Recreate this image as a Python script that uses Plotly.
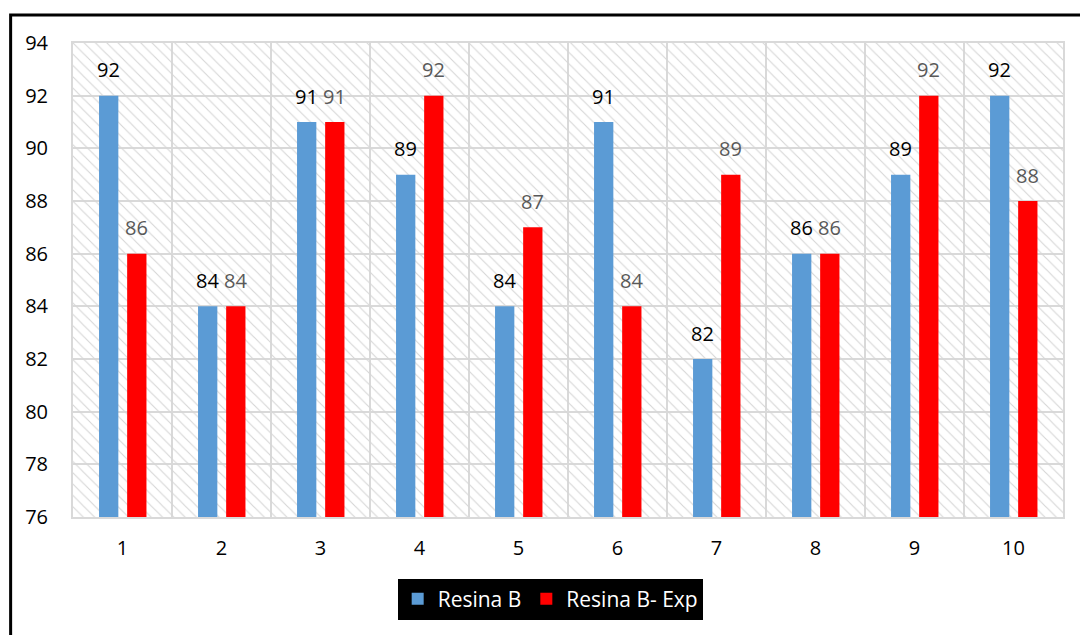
import plotly.graph_objects as go

# Sample number and the two measured series
categories = [1, 2, 3, 4, 5, 6, 7, 8, 9, 10]
resina_b = [92, 84, 91, 89, 84, 91, 82, 86, 89, 92]
resina_b_exp = [86, 84, 91, 92, 87, 84, 89, 86, 92, 88]
y_ticks = [76, 78, 80, 82, 84, 86, 88, 90, 92, 94]

BLUE = "#5b9bd5"
RED = "#ff0000"
GRID = "#d9d9d9"
FONT = "Open Sans"
Y_MIN, Y_MAX = 76, 94

fig = go.Figure()

# Hatched backdrop covering the whole plotting area
fig.add_trace(go.Bar(
    x=[(categories[0] + categories[-1]) / 2],
    y=[Y_MAX - Y_MIN],
    base=[Y_MIN],
    width=[len(categories)],
    marker=dict(
        color="rgba(0,0,0,0)",
        line=dict(width=0),
        pattern=dict(shape="\\", fillmode="replace", fgcolor="#d6d6d6",
                     bgcolor="rgba(0,0,0,0)", size=8, solidity=0.14),
    ),
    showlegend=False,
    hoverinfo="skip",
))

fig.add_trace(go.Bar(
    name="Resina B", x=categories, y=[v - Y_MIN for v in resina_b], base=Y_MIN,
    width=0.195, offset=-0.237, marker=dict(color=BLUE, line=dict(width=0)),
))
fig.add_trace(go.Bar(
    name="Resina B- Exp", x=categories, y=[v - Y_MIN for v in resina_b_exp], base=Y_MIN,
    width=0.195, offset=0.047, marker=dict(color=RED, line=dict(width=0)),
))

annotations = []
for c, v in zip(categories, resina_b):
    annotations.append(dict(x=c - 0.14, y=v, text=str(v), showarrow=False,
                            yshift=26, font=dict(family=FONT, size=20, color="#000000")))
for c, v in zip(categories, resina_b_exp):
    annotations.append(dict(x=c + 0.145, y=v, text=str(v), showarrow=False,
                            yshift=26, font=dict(family=FONT, size=20, color="#595959")))

fig.update_layout(
    width=1080, height=635,
    margin=dict(l=73, r=17, t=43, b=118),
    paper_bgcolor="white", plot_bgcolor="white",
    barmode="overlay",
    font=dict(family=FONT, size=20, color="#000000"),
    annotations=annotations,
    legend=dict(
        orientation="h", x=0.482, xanchor="center", y=-0.13, yanchor="top",
        bgcolor="#000000", font=dict(family=FONT, size=21, color="#ffffff"),
        itemsizing="constant", traceorder="normal",
    ),
    shapes=[dict(type="rect", xref="paper", yref="paper",
                 x0=-0.063, y0=-0.4, x1=1.2, y1=1.059,
                 line=dict(color="#000000", width=3), layer="above")],
)

fig.update_xaxes(
    range=[0.5, 10.5], tickvals=categories, ticktext=[str(c) for c in categories],
    showgrid=False, zeroline=False, ticks="", ticklabelstandoff=12,
    showline=True, linecolor=GRID, linewidth=2, mirror=True,
    tickfont=dict(family=FONT, size=20, color="#000000"),
)
fig.update_yaxes(
    range=[Y_MIN, Y_MAX], tickvals=y_ticks, showgrid=True, gridcolor=GRID, gridwidth=2,
    zeroline=False, ticks="", ticklabelstandoff=19,
    showline=True, linecolor=GRID, linewidth=2, mirror=True,
    tickfont=dict(family=FONT, size=20, color="#000000"),
)

# Vertical separators between samples
for b in [c + 0.5 for c in categories[:-1]]:
    fig.add_vline(x=b, line=dict(color=GRID, width=2), layer="below")

fig.write_html("out.html")
